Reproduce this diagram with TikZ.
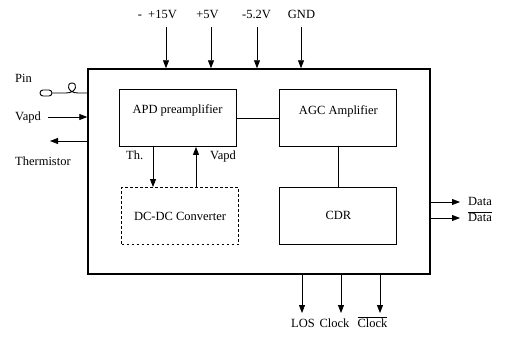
\documentclass[tikz,border=0pt]{standalone}
\usepackage{fontspec}
\setmainfont{Liberation Serif}
\usetikzlibrary{arrows.meta,positioning,calc}

\begin{document}
\begin{tikzpicture}[
    x=1pt, y=-1pt,
    font=\fontsize{12.5}{14}\selectfont,
    blk/.style={draw=black, line width=0.9pt, minimum width=117pt, minimum height=57pt, inner sep=0pt},
    conv/.style={blk, dash pattern=on 2.2pt off 2.8pt},
    arr/.style={-{Triangle[length=8pt,width=6pt]}, line width=0.8pt},
    lbl/.style={inner sep=0pt, anchor=base}
]
\useasboundingbox (0,0) rectangle (507,337);

\node[draw, line width=1.4pt, minimum width=342pt, minimum height=205pt, inner sep=0pt] (module) at (259,171.5) {};

\node[blk, text depth=18pt] (apd) at (177.5,118) {APD preamplifier};
\node[blk, text depth=16pt, right=43pt of apd] (agc) {AGC Amplifier};
\node[blk, below=40pt of agc] (cdr) {CDR};
\node[conv] (dcdc) at (180,216) {DC-DC Converter};

\draw[line width=0.9pt] (apd) -- (agc);
\draw[line width=0.9pt] (agc) -- (cdr);

\coordinate (thx) at (153,0);
\coordinate (vx) at (196,0);
\draw[arr] (apd.south -| thx) -- (dcdc.north -| thx);
\draw[arr] (dcdc.north -| vx) -- (apd.south -| vx);
\node[lbl, anchor=base west] (thlbl) at (126,160) {Th.};
\node[lbl, anchor=base west] (vlbl) at (210,160) {Vapd};

% supplies
\foreach \x/\name in {166/p15,211/p5,257/m52,301/gnd}{
  \coordinate (\name) at (\x,27);
  \draw[arr] (\name) -- (\name |- module.north);
}
\node[lbl, anchor=base east] (t15) at (177,19) {-\ \ +15V};
\node[lbl] (t5) at (207.5,19) {+5V};
\node[lbl] (t52) at (256.5,19) {-5.2V};
\node[lbl] (tgnd) at (301.5,19) {GND};

% outputs
\foreach \x/\name in {302/los,341/clk,380/nclk}{
  \coordinate (\name) at (\x,313);
  \draw[arr] (\name |- module.south) -- (\name);
}
\node[lbl] (tlos) at (303,327) {LOS};
\node[lbl] (tclk) at (334.5,327) {Clock};
\node[lbl] (tnclk) at (372.5,327) {$\overline{\mbox{Clock}}$};

\coordinate (d1) at (460,202);
\coordinate (d2) at (460,218);
\draw[arr] (module.east |- d1) -- (d1);
\draw[arr] (module.east |- d2) -- (d2);
\node[lbl, anchor=base west] (tdata) at (468,206) {Data};
\node[lbl, anchor=base west] (tndata) at (468,222) {$\overline{\mbox{Data}}$};

% left side
\node[lbl, anchor=base west] (tpin) at (15,83) {Pin};
\node[draw, line width=0.9pt, rounded corners=3pt, minimum width=12pt, minimum height=6pt, inner sep=0pt] (plug) at (46,93) {};
\draw[line width=0.9pt] (plug.east) -- (66,93) .. controls (77,93) and (78,83) .. (72,83)
  .. controls (66,83) and (67,93) .. (78,93) -- (module.west |- plug);

\coordinate (vin) at (48,117);
\draw[arr] (vin) -- (vin -| module.west);
\node[lbl, anchor=base west] (tvapd) at (15,121) {Vapd};

\coordinate (thout) at (50,141);
\draw[arr] (thout -| module.west) -- (thout);
\node[lbl, anchor=base west] (ttherm) at (15,165) {Thermistor};
\end{tikzpicture}
\end{document}
